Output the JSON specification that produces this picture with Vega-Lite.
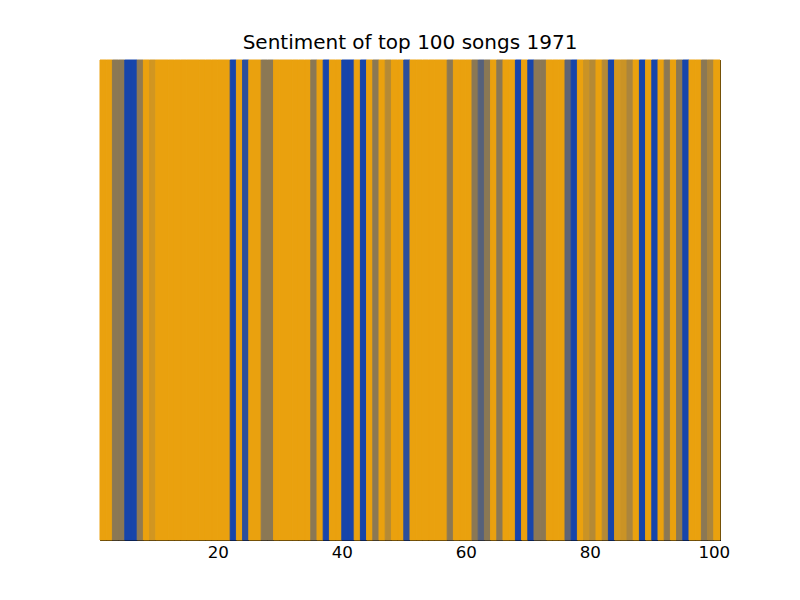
{
  "$schema": "https://vega.github.io/schema/vega-lite/v6.json",
  "width": 620,
  "height": 480,
  "autosize": {"type": "none"},
  "padding": {"left": 100, "top": 60, "right": 80, "bottom": 60},
  "background": "white",
  "title": {"text": "Sentiment of top 100 songs 1971", "font": "DejaVu Sans", "fontSize": 20, "fontWeight": "normal", "color": "black", "offset": 7},
  "config": {"view": {"stroke": "black", "strokeWidth": 1}},
  "data": {"values": [
    {"song":1,"end":2,"neg":0},{"song":2,"end":3,"neg":0},{"song":3,"end":4,"neg":0.45},{"song":4,"end":5,"neg":0.45},
    {"song":5,"end":6,"neg":1},{"song":6,"end":7,"neg":1},{"song":7,"end":8,"neg":0.42},{"song":8,"end":9,"neg":0},
    {"song":9,"end":10,"neg":0.12},{"song":10,"end":11,"neg":0},{"song":11,"end":12,"neg":0},{"song":12,"end":13,"neg":0},
    {"song":13,"end":14,"neg":0},{"song":14,"end":15,"neg":0},{"song":15,"end":16,"neg":0},{"song":16,"end":17,"neg":0},
    {"song":17,"end":18,"neg":0},{"song":18,"end":19,"neg":0},{"song":19,"end":20,"neg":0},{"song":20,"end":21,"neg":0},
    {"song":21,"end":22,"neg":0},{"song":22,"end":23,"neg":1},{"song":23,"end":24,"neg":0},{"song":24,"end":25,"neg":0.9},
    {"song":25,"end":26,"neg":0},{"song":26,"end":27,"neg":0},{"song":27,"end":28,"neg":0.45},{"song":28,"end":29,"neg":0.45},
    {"song":29,"end":30,"neg":0},{"song":30,"end":31,"neg":0},{"song":31,"end":32,"neg":0},{"song":32,"end":33,"neg":0},
    {"song":33,"end":34,"neg":0},{"song":34,"end":35,"neg":0},{"song":35,"end":36,"neg":0.45},{"song":36,"end":37,"neg":0},
    {"song":37,"end":38,"neg":1},{"song":38,"end":39,"neg":0},{"song":39,"end":40,"neg":0},{"song":40,"end":41,"neg":1},
    {"song":41,"end":42,"neg":1},{"song":42,"end":43,"neg":0},{"song":43,"end":44,"neg":1},{"song":44,"end":45,"neg":0},
    {"song":45,"end":46,"neg":0.45},{"song":46,"end":47,"neg":0},{"song":47,"end":48,"neg":0.25},{"song":48,"end":49,"neg":0},
    {"song":49,"end":50,"neg":0},{"song":50,"end":51,"neg":0.9},{"song":51,"end":52,"neg":0},{"song":52,"end":53,"neg":0},
    {"song":53,"end":54,"neg":0},{"song":54,"end":55,"neg":0},{"song":55,"end":56,"neg":0},{"song":56,"end":57,"neg":0},
    {"song":57,"end":58,"neg":0.45},{"song":58,"end":59,"neg":0},{"song":59,"end":60,"neg":0},{"song":60,"end":61,"neg":0},
    {"song":61,"end":62,"neg":0.45},{"song":62,"end":63,"neg":0.7},{"song":63,"end":64,"neg":0.45},{"song":64,"end":65,"neg":0},
    {"song":65,"end":66,"neg":0.45},{"song":66,"end":67,"neg":0},{"song":67,"end":68,"neg":0},{"song":68,"end":69,"neg":1},
    {"song":69,"end":70,"neg":0},{"song":70,"end":71,"neg":1},{"song":71,"end":72,"neg":0.45},{"song":72,"end":73,"neg":0.45},
    {"song":73,"end":74,"neg":0},{"song":74,"end":75,"neg":0},{"song":75,"end":76,"neg":0},{"song":76,"end":77,"neg":0.65},
    {"song":77,"end":78,"neg":1},{"song":78,"end":79,"neg":0},{"song":79,"end":80,"neg":0.15},{"song":80,"end":81,"neg":0.25},
    {"song":81,"end":82,"neg":0},{"song":82,"end":83,"neg":0.25},{"song":83,"end":84,"neg":1},{"song":84,"end":85,"neg":0.1},
    {"song":85,"end":86,"neg":0.15},{"song":86,"end":87,"neg":0.3},{"song":87,"end":88,"neg":0},{"song":88,"end":89,"neg":1},
    {"song":89,"end":90,"neg":0},{"song":90,"end":91,"neg":1},{"song":91,"end":92,"neg":0},{"song":92,"end":93,"neg":0.45},
    {"song":93,"end":94,"neg":0},{"song":94,"end":95,"neg":0.45},{"song":95,"end":96,"neg":1},{"song":96,"end":97,"neg":0},
    {"song":97,"end":98,"neg":0},{"song":98,"end":99,"neg":0.45},{"song":99,"end":100,"neg":0.3},{"song":100,"end":101,"neg":0}
  ]},
  "layer": [
    {
      "mark": {"type": "rect", "strokeWidth": 1},
      "encoding": {
        "x": {"field": "song", "type": "quantitative",
              "scale": {"domain": [1, 101], "nice": false, "zero": false},
              "axis": {"orient": "bottom", "title": null, "values": [20, 40, 60, 80, 100], "domain": true, "domainColor": "black", "domainWidth": 1, "grid": false,
                       "tickSize": -5, "tickWidth": 1, "tickColor": "black", "labelPadding": 9, "labelFont": "DejaVu Sans", "labelFontSize": 16.7, "labelColor": "black", "labelFlush": false}},
        "x2": {"field": "end"},
        "color": {"field": "neg", "type": "quantitative", "legend": null,
                  "scale": {"domain": [0, 1], "range": ["#EAA10E", "#1745AA"], "interpolate": "rgb"}},
        "stroke": {"field": "neg", "type": "quantitative", "legend": null,
                  "scale": {"domain": [0, 1], "range": ["#EAA10E", "#1745AA"], "interpolate": "rgb"}}
      }
    },
    {
      "mark": {"type": "rect", "opacity": 0},
      "encoding": {
        "x": {"field": "song", "type": "quantitative",
              "axis": {"orient": "top", "title": null, "values": [20, 40, 60, 80, 100], "domain": true, "domainColor": "black", "domainWidth": 1, "grid": false, "labels": false,
                       "tickSize": -5, "tickWidth": 1, "tickColor": "black"}},
        "x2": {"field": "end"},
        "y": {"field": "neg", "type": "quantitative", "scale": {"domain": [0, 1], "nice": false},
              "axis": {"orient": "left", "title": null, "domain": true, "domainColor": "black", "domainWidth": 1, "ticks": false, "labels": false, "grid": false}}
      }
    },
    {
      "mark": {"type": "rect", "opacity": 0},
      "encoding": {
        "x": {"field": "song", "type": "quantitative", "axis": null},
        "x2": {"field": "end"},
        "y": {"field": "neg", "type": "quantitative",
              "axis": {"orient": "right", "title": null, "domain": true, "domainColor": "black", "domainWidth": 1, "ticks": false, "labels": false, "grid": false}}
      }
    }
  ],
  "resolve": {"axis": {"x": "independent", "y": "independent"}}
}
